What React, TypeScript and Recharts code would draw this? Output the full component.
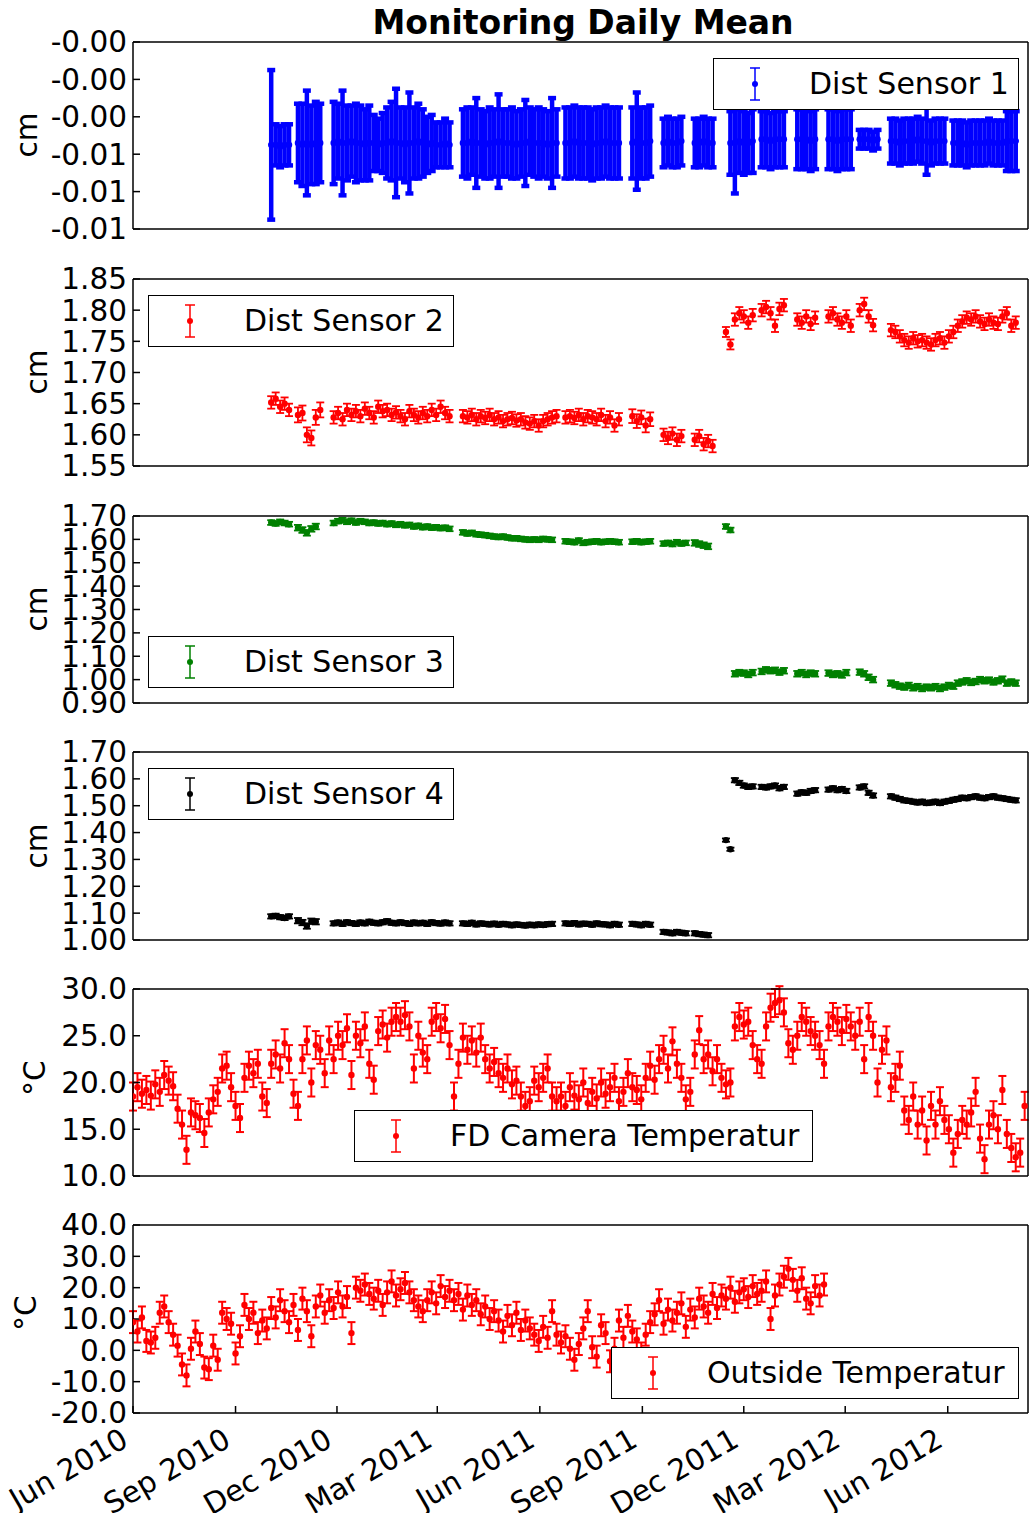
import { ErrorBar, Scatter, ScatterChart, XAxis, YAxis } from 'recharts';

const FONT = "'DejaVu Sans', sans-serif";
const STEP_DAYS = 4; // one reading every 4 days, day 0 = 1 Jun 2010
const TICK_FONT = 29.5;

const X_DOMAIN: [number, number] = [0, 803];
const X_TICKS = [0, 92, 183, 273, 365, 457, 548, 639, 731];
const X_TICK_LABELS = ['Jun 2010', 'Sep 2010', 'Dec 2010', 'Mar 2011', 'Jun 2011', 'Sep 2011', 'Dec 2011', 'Mar 2012', 'Jun 2012'];

type Segment = { start: number; v: number[]; e: number | number[] };

const SENSOR1: Segment[] = [
  { start: 31, v: [-0.0055], e: 0.004 },
  { start: 32, v: [-0.0055, -0.0056, -0.0055, -0.0055], e: 0.0011 },
  { start: 37, v: [-0.0054, -0.0055, -0.0054, -0.0055, -0.0054, -0.0054], e: [0.0021, 0.0022, 0.0028, 0.0021, 0.0022, 0.0021] },
  {
    start: 45,
    v: [-0.0054, -0.0053, -0.0054, -0.0054, -0.0053, -0.0054, -0.0054, -0.0055, -0.0054, -0.0054, -0.0055, -0.0054, -0.0054, -0.0053,
      -0.0054, -0.0054, -0.0055, -0.0054, -0.0054, -0.0053, -0.0054, -0.0055, -0.0054, -0.0055, -0.0055, -0.0054, -0.0055],
    e: [0.0022, 0.002, 0.0028, 0.002, 0.0019, 0.0021, 0.002, 0.0019, 0.002, 0.0015, 0.0014, 0.0016, 0.0019, 0.0021,
      0.0029, 0.0019, 0.002, 0.0027, 0.0019, 0.002, 0.0018, 0.0015, 0.0015, 0.0012, 0.0012, 0.0013, 0.0012],
  },
  {
    start: 74,
    v: [-0.0054, -0.0054, -0.0053, -0.0054, -0.0054, -0.0055, -0.0054, -0.0054, -0.0053, -0.0054, -0.0054,
      -0.0054, -0.0055, -0.0054, -0.0054, -0.0053, -0.0054, -0.0054, -0.0054, -0.0055, -0.0054, -0.0054],
    e: [0.0018, 0.0019, 0.0018, 0.0024, 0.0018, 0.0018, 0.0019, 0.0018, 0.0025, 0.0018, 0.0018,
      0.0019, 0.0018, 0.0018, 0.0023, 0.0018, 0.0018, 0.0019, 0.0018, 0.0018, 0.0024, 0.0018],
  },
  { start: 97, v: [-0.0054, -0.0054, -0.0053, -0.0054, -0.0054, -0.0054, -0.0055, -0.0054, -0.0054, -0.0053, -0.0054, -0.0054, -0.0054], e: 0.0019 },
  { start: 112, v: [-0.0054, -0.0053, -0.0054, -0.0054, -0.0053], e: [0.0019, 0.0026, 0.0019, 0.0019, 0.0019] },
  { start: 119, v: [-0.0054, -0.0053, -0.0054, -0.0054, -0.0053], e: 0.0013 },
  { start: 126, v: [-0.0054, -0.0054, -0.0053, -0.0054, -0.0054], e: 0.0013 },
  { start: 134, v: [-0.0054, -0.0054, -0.0053, -0.0054, -0.0054, -0.0053], e: [0.0017, 0.0027, 0.0017, 0.0017, 0.0016, 0.0017] },
  { start: 141, v: [-0.0052, -0.0052, -0.0053, -0.0052, -0.0052, -0.0052], e: 0.0015 },
  { start: 149, v: [-0.0052, -0.0052, -0.0052, -0.0053, -0.0052], e: 0.0016 },
  { start: 156, v: [-0.0052, -0.0052, -0.0053, -0.0052, -0.0052, -0.0052], e: 0.0016 },
  { start: 163, v: [-0.0052, -0.0052, -0.0052, -0.0053, -0.0052], e: 0.0005 },
  {
    start: 170,
    v: [-0.0053, -0.0053, -0.0054, -0.0053, -0.0053, -0.0053, -0.0052, -0.0053, -0.0053, -0.0054, -0.0053, -0.0053, -0.0053],
    e: [0.0012, 0.0012, 0.0012, 0.0012, 0.0012, 0.0012, 0.0012, 0.0012, 0.0018, 0.0012, 0.0012, 0.0012, 0.0012],
  },
  { start: 184, v: [-0.0054, -0.0054, -0.0054, -0.0055, -0.0054, -0.0054, -0.0054, -0.0054, -0.0053, -0.0054, -0.0054, -0.0054], e: 0.0012 },
  { start: 196, v: [-0.0053, -0.0053, -0.0053], e: 0.0016 },
];

const SENSOR2: Segment[] = [
  { start: 31, v: [1.652, 1.658, 1.645, 1.650, 1.640], e: 0.01 },
  { start: 37, v: [1.632, 1.635, 1.600, 1.595, 1.628, 1.640], e: 0.012 },
  {
    start: 45,
    v: [1.628, 1.635, 1.625, 1.640, 1.632, 1.638, 1.630, 1.642, 1.635, 1.628, 1.645, 1.638, 1.640, 1.632,
      1.636, 1.630, 1.625, 1.638, 1.632, 1.628, 1.635, 1.630, 1.640, 1.632, 1.645, 1.635, 1.630],
    e: 0.01,
  },
  {
    start: 74,
    v: [1.630, 1.628, 1.632, 1.625, 1.630, 1.627, 1.632, 1.625, 1.628, 1.622, 1.625,
      1.627, 1.623, 1.625, 1.620, 1.618, 1.622, 1.615, 1.622, 1.625, 1.628, 1.630],
    e: 0.01,
  },
  { start: 97, v: [1.628, 1.630, 1.627, 1.632, 1.625, 1.630, 1.628, 1.625, 1.632, 1.622, 1.628, 1.615, 1.625], e: 0.01 },
  { start: 112, v: [1.630, 1.622, 1.628, 1.615, 1.625], e: 0.011 },
  { start: 119, v: [1.600, 1.595, 1.602, 1.592, 1.598], e: 0.01 },
  { start: 126, v: [1.592, 1.598, 1.585, 1.590, 1.582], e: 0.01 },
  { start: 133, v: [1.765, 1.745], e: 0.008 },
  { start: 135, v: [1.785, 1.795, 1.790, 1.780, 1.792], e: 0.01 },
  { start: 141, v: [1.800, 1.805, 1.795, 1.775, 1.802, 1.808], e: 0.01 },
  { start: 149, v: [1.785, 1.780, 1.790, 1.778, 1.788], e: 0.01 },
  { start: 156, v: [1.790, 1.795, 1.785, 1.780, 1.790, 1.775], e: 0.01 },
  { start: 163, v: [1.800, 1.810, 1.790, 1.776], e: 0.01 },
  { start: 170, v: [1.768, 1.765, 1.758, 1.752, 1.748, 1.755, 1.750, 1.752, 1.748, 1.745, 1.752, 1.755, 1.748, 1.758, 1.765], e: 0.01 },
  { start: 185, v: [1.775, 1.782, 1.788, 1.785, 1.790, 1.782, 1.778, 1.785, 1.780, 1.778, 1.790, 1.795, 1.775, 1.780], e: 0.01 },
];

const SENSOR3: Segment[] = [
  { start: 31, v: [1.672, 1.668, 1.675, 1.670, 1.665], e: 0.01 },
  { start: 37, v: [1.650, 1.640, 1.628, 1.645, 1.655], e: 0.012 },
  {
    start: 45,
    v: [1.670, 1.678, 1.682, 1.675, 1.680, 1.672, 1.678, 1.675, 1.670, 1.672, 1.668, 1.670, 1.665, 1.668,
      1.662, 1.665, 1.660, 1.662, 1.655, 1.658, 1.652, 1.655, 1.650, 1.652, 1.648, 1.650, 1.645],
    e: 0.01,
  },
  {
    start: 74,
    v: [1.630, 1.625, 1.628, 1.622, 1.620, 1.618, 1.615, 1.612, 1.610, 1.612, 1.608,
      1.605, 1.605, 1.602, 1.600, 1.598, 1.600, 1.598, 1.602, 1.600, 1.598],
    e: 0.01,
  },
  { start: 97, v: [1.592, 1.590, 1.588, 1.595, 1.585, 1.588, 1.590, 1.592, 1.588, 1.590, 1.592, 1.590, 1.588], e: 0.01 },
  { start: 112, v: [1.590, 1.592, 1.588, 1.590, 1.592], e: 0.01 },
  { start: 119, v: [1.582, 1.585, 1.580, 1.588, 1.582, 1.585], e: 0.01 },
  { start: 126, v: [1.585, 1.580, 1.575, 1.570], e: 0.012 },
  { start: 133, v: [1.655, 1.640], e: 0.01 },
  { start: 135, v: [1.025, 1.030, 1.028, 1.022, 1.030], e: 0.012 },
  { start: 141, v: [1.035, 1.042, 1.038, 1.040, 1.032, 1.038], e: 0.012 },
  { start: 149, v: [1.025, 1.030, 1.022, 1.028, 1.025], e: 0.012 },
  { start: 156, v: [1.028, 1.022, 1.025, 1.020, 1.030], e: 0.012 },
  { start: 163, v: [1.032, 1.025, 1.010, 1.000], e: 0.012 },
  { start: 170, v: [0.985, 0.978, 0.972, 0.968, 0.975, 0.965, 0.970, 0.962, 0.968, 0.965, 0.970, 0.962, 0.968, 0.975, 0.972], e: 0.012 },
  { start: 185, v: [0.985, 0.990, 0.995, 0.988, 0.992, 1.000, 0.995, 0.998, 0.990, 0.995, 1.002, 0.985, 0.990, 0.985], e: 0.012 },
];

const SENSOR4: Segment[] = [
  { start: 31, v: [1.088, 1.090, 1.085, 1.082, 1.088], e: 0.008 },
  { start: 37, v: [1.072, 1.065, 1.052, 1.070, 1.068], e: 0.01 },
  {
    start: 45,
    v: [1.062, 1.065, 1.060, 1.066, 1.063, 1.060, 1.065, 1.062, 1.068, 1.064, 1.062, 1.066, 1.070, 1.064,
      1.062, 1.066, 1.063, 1.060, 1.065, 1.062, 1.064, 1.060, 1.066, 1.063, 1.061, 1.065, 1.062],
    e: 0.008,
  },
  {
    start: 74,
    v: [1.062, 1.060, 1.064, 1.058, 1.062, 1.060, 1.058, 1.061, 1.057, 1.060, 1.058,
      1.055, 1.058, 1.056, 1.054, 1.057, 1.055, 1.058, 1.056, 1.059, 1.060],
    e: 0.008,
  },
  { start: 97, v: [1.062, 1.060, 1.063, 1.058, 1.061, 1.060, 1.057, 1.062, 1.059, 1.058, 1.055, 1.060, 1.057], e: 0.008 },
  { start: 112, v: [1.060, 1.058, 1.055, 1.060, 1.057], e: 0.008 },
  { start: 119, v: [1.030, 1.028, 1.025, 1.030, 1.027, 1.025], e: 0.008 },
  { start: 126, v: [1.025, 1.022, 1.020, 1.018], e: 0.008 },
  { start: 133, v: [1.372, 1.338], e: 0.006 },
  { start: 135, v: [1.595, 1.585, 1.575, 1.570, 1.572], e: 0.008 },
  { start: 141, v: [1.570, 1.568, 1.572, 1.575, 1.565, 1.570], e: 0.008 },
  { start: 149, v: [1.545, 1.550, 1.548, 1.555, 1.558], e: 0.008 },
  { start: 156, v: [1.560, 1.565, 1.558, 1.562, 1.555], e: 0.008 },
  { start: 163, v: [1.568, 1.572, 1.548, 1.538], e: 0.008 },
  { start: 170, v: [1.535, 1.530, 1.525, 1.520, 1.518, 1.515, 1.512, 1.515, 1.510, 1.512, 1.515, 1.510, 1.515, 1.518, 1.522], e: 0.008 },
  { start: 185, v: [1.525, 1.530, 1.528, 1.532, 1.535, 1.530, 1.528, 1.532, 1.535, 1.530, 1.528, 1.525, 1.522, 1.520], e: 0.008 },
];

const FD_CAMERA = [
  18.5, 19.5, 18.8, 19.2, 18.6, 19.8, 19.0, 20.8, 20.2, 19.6,
  17.2, 15.5, 12.8, 16.8, 16.5, 16.2, 14.6, 16.8, 18.2, 19.0,
  21.5, 21.8, 19.5, 17.5, 16.2, 20.5, 21.8, 21.0, 22.0, 18.5,
  17.8, 22.0, 23.0, 21.5, 24.2, 22.5, 18.8, 17.5, 22.5, 24.5,
  20.0, 24.0, 23.5, 21.0, 24.5, 22.5, 25.0, 24.0, 25.8, 20.8,
  25.0, 24.2, 26.0, 22.0, 20.3, 25.5, 26.2, 24.8, 26.5, 27.0,
  26.5, 27.2, 26.0, 21.5, 25.0, 23.2, 22.5, 26.5, 27.0, 25.8,
  26.8, 24.0, 18.5, 22.0, 24.8, 23.5, 24.5, 23.2, 24.8, 22.5,
  21.5, 22.2, 21.0, 20.5, 21.5, 19.8, 20.2, 18.5, 17.5, 18.0,
  20.2, 19.5, 20.5, 21.5, 18.5, 18.0, 18.5, 17.5, 19.5, 18.6,
  18.2, 20.0, 17.8, 19.0, 18.3, 20.0, 18.8, 19.5, 20.5, 18.0,
  19.0, 21.0, 19.5, 19.2, 18.2, 20.5, 21.8, 20.3, 22.5, 23.5,
  21.5, 24.4, 22.0, 20.5, 18.2, 19.0, 23.0, 25.6, 22.5, 23.0,
  21.2, 22.5, 20.5, 19.8, 20.0, 26.0, 27.0, 26.2, 26.5, 24.0,
  22.5, 22.0, 26.0, 28.0, 28.5, 28.8, 27.5, 24.2, 23.5, 25.0,
  27.0, 26.5, 25.5, 25.0, 24.0, 22.0, 26.0, 27.0, 26.5, 25.5,
  26.8, 26.0, 25.0, 26.5, 22.5, 27.0, 25.0, 20.0, 23.5, 24.5,
  19.5, 20.5, 21.8, 17.0, 16.0, 18.5, 15.5, 17.0, 13.8, 17.5,
  15.5, 18.0, 16.0, 15.0, 12.5, 14.5, 16.0, 15.5, 16.8, 19.0,
  14.0, 11.8, 15.5, 16.5, 15.0, 19.2, 14.5, 13.0, 12.0, 12.5,
  17.5,
];

const OUTSIDE = [
  9.0, 6.0, 10.5, 3.0, 2.5, 4.0, 12.0, 14.0, 9.0, 5.0,
  1.5, -4.5, -8.0, 0.5, 6.0, 2.0, -5.5, -6.0, 1.5, -3.0,
  12.0, 10.0, 8.5, -1.0, 4.5, 14.5, 10.0, 12.0, 5.5, 9.5,
  7.0, 13.5, 10.5, 16.0, 12.5, 9.0, 14.5, 6.5, 16.5, 12.5,
  4.5, 14.0, 17.5, 12.0, 16.0, 13.5, 18.5, 14.0, 17.0, 5.5,
  20.0, 19.0, 21.0, 18.0, 16.5, 19.0, 14.5, 18.5, 22.0, 17.5,
  19.5, 21.5, 18.5, 16.0, 14.0, 12.5, 16.0, 18.5, 15.0, 20.5,
  17.0, 19.0, 16.0, 18.0, 13.0, 17.5, 14.5, 16.0, 11.5, 14.0,
  10.0, 12.5, 9.5, 6.0, 11.0, 8.0, 12.0, 6.5, 9.5, 7.0,
  5.0, 3.0, 7.5, 4.0, 12.5, 5.0, 2.5, 4.5, 0.5, -3.0,
  2.0, 7.0, 12.5, 1.0, -2.0, 8.0, 5.5, -3.5, 0.5, 9.5,
  4.0, 11.0, 6.0, 3.5, -1.0, 5.0, 9.0, 11.5, 16.0, 8.5,
  13.0, 9.5, 12.0, 15.0, 7.5, 13.0, 10.5, 16.5, 14.0, 12.0,
  18.0, 13.5, 17.5, 16.5, 20.0, 15.5, 18.5, 19.5, 17.0, 20.5,
  18.0, 19.0, 22.0, 10.0, 17.5, 21.0, 23.5, 26.0, 22.5, 19.0,
  23.0, 16.5, 15.0, 20.5, 17.5, 21.0,
];

const FD_CAMERA_ERR = 1.5;
const OUTSIDE_ERR = 3.5;

const P1_TICKS = [-0.01, -0.008, -0.006, -0.004, -0.002, 0];
const P2_TICKS = [1.55, 1.6, 1.65, 1.7, 1.75, 1.8, 1.85];
const P3_TICKS = [0.9, 1.0, 1.1, 1.2, 1.3, 1.4, 1.5, 1.6, 1.7];
const P4_TICKS = [1.0, 1.1, 1.2, 1.3, 1.4, 1.5, 1.6, 1.7];
const P5_TICKS = [10, 15, 20, 25, 30];
const P6_TICKS = [-20, -10, 0, 10, 20, 30, 40];

type Pt = { x: number; y: number; err: number };

function fromSegments(segs: Segment[]): Pt[] {
  const pts: Pt[] = [];
  segs.forEach((s) => {
    s.v.forEach((y, k) => {
      pts.push({ x: (s.start + k) * STEP_DAYS, y, err: Array.isArray(s.e) ? s.e[k] : s.e });
    });
  });
  return pts;
}

function fromSeries(values: number[], err: number): Pt[] {
  return values.map((y, i) => ({ x: i * STEP_DAYS, y, err }));
}

const renderDateTick = (props: any) => {
  const { x, y, payload } = props;
  const label = X_TICK_LABELS[X_TICKS.indexOf(payload.value)];
  const ax = x - 3;
  return (
    <text x={ax} y={y} transform={`rotate(-30, ${ax}, ${y})`} textAnchor="end" fontSize={TICK_FONT} fontFamily={FONT} fill="#000">
      {label}
    </text>
  );
};

interface PanelProps {
  top: number;
  plotHeight: number;
  points: Pt[];
  color: string;
  domain: [number, number];
  ticks: number[];
  format: (v: number) => string;
  errStroke: number;
  bottomAxis?: boolean;
}

function Panel({ top, plotHeight, points, color, domain, ticks, format, errStroke, bottomAxis }: PanelProps) {
  const below = bottomAxis ? 100 : 20;
  return (
    <div style={{ position: 'absolute', left: 0, top: top - 20 }}>
      <ScatterChart
        width={1029}
        height={20 + plotHeight + below}
        margin={{ top: 19, right: 0, bottom: bottomAxis ? 0 : 19, left: 0 }}
      >
        <XAxis
          xAxisId="t"
          orientation="top"
          type="number"
          dataKey="x"
          domain={X_DOMAIN}
          ticks={X_TICKS}
          interval={0}
          allowDataOverflow
          height={1}
          tick={false}
          tickSize={-7}
          stroke="#000"
          strokeWidth={1.5}
        />
        <XAxis
          xAxisId="b"
          type="number"
          dataKey="x"
          domain={X_DOMAIN}
          ticks={X_TICKS}
          interval={0}
          allowDataOverflow
          height={bottomAxis ? 100 : 1}
          tick={bottomAxis ? renderDateTick : false}
          tickSize={-7}
          tickMargin={39}
          stroke="#000"
          strokeWidth={1.5}
        />
        <YAxis
          yAxisId="l"
          type="number"
          dataKey="y"
          domain={domain}
          ticks={ticks}
          interval={0}
          allowDataOverflow
          width={133}
          tickSize={-7}
          tickMargin={13}
          tickFormatter={format}
          tick={{ fill: '#000', fontSize: TICK_FONT, fontFamily: FONT }}
          stroke="#000"
          strokeWidth={1.5}
        />
        <YAxis
          yAxisId="r"
          orientation="right"
          type="number"
          dataKey="y"
          domain={domain}
          ticks={ticks}
          interval={0}
          allowDataOverflow
          width={1}
          tick={false}
          tickSize={-7}
          stroke="#000"
          strokeWidth={1.5}
        />
        <Scatter
          xAxisId="b"
          yAxisId="l"
          data={points}
          fill={color}
          isAnimationActive={false}
          shape={(p: any) => <circle cx={p.cx} cy={p.cy} r={3.2} fill={color} />}
        >
          <ErrorBar dataKey="err" direction="y" width={4} stroke={color} strokeWidth={errStroke} isAnimationActive={false} />
        </Scatter>
      </ScatterChart>
    </div>
  );
}

function LegendBox({ left, top, width, color, label }: { left: number; top: number; width: number; color: string; label: string }) {
  return (
    <div
      style={{
        position: 'absolute',
        left,
        top,
        width,
        height: 52,
        boxSizing: 'border-box',
        border: '1.2px solid #000',
        background: '#fff',
      }}
    >
      <svg width={16} height={40} style={{ position: 'absolute', left: 33, top: 5 }}>
        <line x1={8} y1={4} x2={8} y2={36} stroke={color} strokeWidth={1.5} />
        <line x1={3} y1={4} x2={13} y2={4} stroke={color} strokeWidth={1.5} />
        <line x1={3} y1={36} x2={13} y2={36} stroke={color} strokeWidth={1.5} />
        <circle cx={8} cy={20} r={3} fill={color} />
      </svg>
      <div
        style={{
          position: 'absolute',
          left: 95,
          top: 0,
          lineHeight: '49px',
          fontSize: 30,
          fontFamily: FONT,
          color: '#000',
          whiteSpace: 'nowrap',
        }}
      >
        {label}
      </div>
    </div>
  );
}

const Y_LABELS = [
  { text: 'cm', x: 37, y: 135 },
  { text: 'cm', x: 47, y: 372 },
  { text: 'cm', x: 47, y: 609 },
  { text: 'cm', x: 47, y: 846 },
  { text: '°C', x: 45, y: 1078 },
  { text: '°C', x: 36, y: 1313 },
];

export default function App() {
  const fmt2 = (v: number) => v.toFixed(2);
  const fmt1 = (v: number) => v.toFixed(1);
  const fmtS1 = (v: number) => (v === 0 ? '-0.00' : v.toFixed(2));

  return (
    <div style={{ position: 'absolute', left: 0, top: 0, width: 1029, height: 1513, background: '#fff', fontFamily: FONT }}>
      <svg width={1029} height={1513} style={{ position: 'absolute', left: 0, top: 0 }}>
        <text x={583} y={34} textAnchor="middle" fontWeight="bold" fontSize={33} fontFamily={FONT} fill="#000">
          Monitoring Daily Mean
        </text>
        {Y_LABELS.map((l, i) => (
          <text
            key={i}
            x={l.x}
            y={l.y}
            transform={`rotate(-90, ${l.x}, ${l.y})`}
            textAnchor="middle"
            fontSize={TICK_FONT}
            fontFamily={FONT}
            fill="#000"
          >
            {l.text}
          </text>
        ))}
      </svg>

      <Panel top={42} plotHeight={187} points={fromSegments(SENSOR1)} color="#0000ff" domain={[-0.01, 0]} ticks={P1_TICKS} format={fmtS1} errStroke={4.5} />
      <Panel top={279} plotHeight={187} points={fromSegments(SENSOR2)} color="#ff0000" domain={[1.55, 1.85]} ticks={P2_TICKS} format={fmt2} errStroke={1.8} />
      <Panel top={516} plotHeight={187} points={fromSegments(SENSOR3)} color="#008000" domain={[0.9, 1.7]} ticks={P3_TICKS} format={fmt2} errStroke={1.8} />
      <Panel top={752} plotHeight={188} points={fromSegments(SENSOR4)} color="#000000" domain={[1.0, 1.7]} ticks={P4_TICKS} format={fmt2} errStroke={1.8} />
      <Panel top={989} plotHeight={187} points={fromSeries(FD_CAMERA, FD_CAMERA_ERR)} color="#ff0000" domain={[10, 30]} ticks={P5_TICKS} format={fmt1} errStroke={2} />
      <Panel top={1225} plotHeight={188} points={fromSeries(OUTSIDE, OUTSIDE_ERR)} color="#ff0000" domain={[-20, 40]} ticks={P6_TICKS} format={fmt1} errStroke={2} bottomAxis />

      <LegendBox left={713} top={58} width={306} color="#0000ff" label="Dist Sensor 1" />
      <LegendBox left={148} top={295} width={306} color="#ff0000" label="Dist Sensor 2" />
      <LegendBox left={148} top={636} width={306} color="#008000" label="Dist Sensor 3" />
      <LegendBox left={148} top={768} width={306} color="#000000" label="Dist Sensor 4" />
      <LegendBox left={354} top={1110} width={459} color="#ff0000" label="FD Camera Temperatur" />
      <LegendBox left={611} top={1347} width={408} color="#ff0000" label="Outside Temperatur" />
    </div>
  );
}
